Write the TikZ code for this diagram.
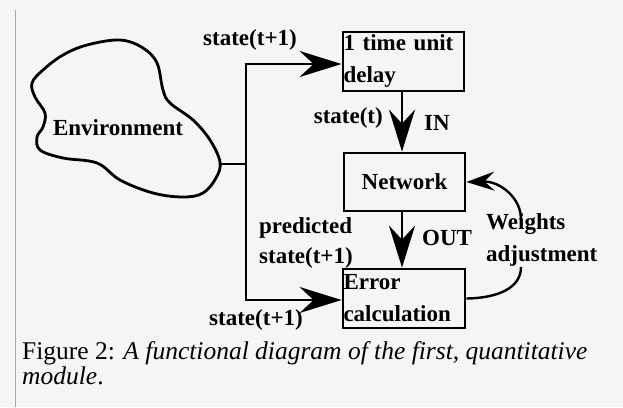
\documentclass[tikz,border=0pt]{standalone}
\usepackage{fontspec}
\setmainfont{Liberation Serif}
\usetikzlibrary{arrows.meta}
\tikzset{
  lbl/.style={inner sep=0pt, font=\fontsize{23}{32}\selectfont\bfseries},
  boxnode/.style={draw, line width=2.8pt, inner xsep=0.5pt, inner ysep=0pt, align=left, font=\fontsize{23}{32}\selectfont\bfseries},
  wire/.style={line width=2.8pt},
  arr/.style={line width=2.8pt, -{Stealth[length=42pt,width=26pt,inset=14pt]}},
  warr/.style={line width=2.4pt, -{Stealth[length=28pt,width=19pt,inset=10pt]}},
  captext/.style={inner sep=0pt, font=\fontsize{25.5}{26}\selectfont},
}
\begin{document}
\begin{tikzpicture}[x=1pt,y=-1pt]
\fill[black!4] (0,0) rectangle (623,407);
\useasboundingbox (0,0) rectangle (623,407);
\draw[black!35, line width=1pt] (15,10) -- (15,407);
% environment cloud
\draw[line width=2.8pt] plot[smooth cycle, tension=0.6] coordinates {
  (43,70) (63,55) (87,45) (120,40) (143,48) (157,63) (163,90) (170,103)
  (193,120) (210,140) (220,162) (216,178) (203,193) (183,197) (153,193)
  (120,180) (97,163) (63,158) (40,150) (37,137) (43,127) (45,113) (35,97) (32,83)};
\node[lbl] (envlbl) at (118,128) {Environment};
\coordinate (envout) at (219,164);
\coordinate (jmid) at (246,164);
\coordinate (jtop) at (246,64);
\coordinate (jbot) at (246,300);
% boxes
\node[boxnode, text width=120pt, minimum height=59pt] (delay) at (403.5,61.5) {1 time unit\\delay};
\node[boxnode, minimum width=121pt, minimum height=58pt, align=center] (net) at (404.5,182) {Network};
\node[boxnode, text width=121pt, minimum height=59pt] (err) at (404,298.5) {Error\\calculation};
% wires
\draw[wire] (envout) -- (jmid);
\draw[wire, line cap=rect] (jtop) -- (jbot);
\draw[arr] (jtop) -- (jtop -| delay.west);
\draw[arr] (jbot) -- (jbot -| err.west);
\draw[arr] (delay.south -| 402,0) -- (net.north -| 402,0);
\draw[arr] (net.south -| 402,0) -- (err.north -| 402,0);
% weights loop
\coordinate (wlow) at (521,267);
\coordinate (whigh) at (521,219);
\draw[wire, line width=2.4pt] (err.east) .. controls (498,298) and (521,288) .. (wlow);
\draw[warr] (whigh) .. controls (521,198) and (500,181) .. (net.east);
% labels
\node[lbl] (s1) at (250,40) {state(t+1)};
\node[lbl, anchor=east] (st) at (383,118) {state(t)};
\node[lbl, anchor=west] (in) at (424,123) {IN};
\node[lbl, anchor=west] (out) at (422,238) {OUT};
\node[lbl, anchor=west] (pred) at (259,228) {predicted};
\node[lbl, anchor=west] (pst) at (259,258) {state(t+1)};
\node[lbl] (s2) at (256,320) {state(t+1)};
\node[lbl, anchor=west] (w1) at (486,224) {Weights};
\node[lbl, anchor=west] (w2) at (486,256) {adjustment};
% caption
\node[captext, anchor=mid west] (c1) at (22,357) {Figure 2: \textit{A functional diagram of the first, quantitative}};
\node[captext, anchor=mid west] (c2) at (22,382) {\textit{module}.};
\end{tikzpicture}
\end{document}
